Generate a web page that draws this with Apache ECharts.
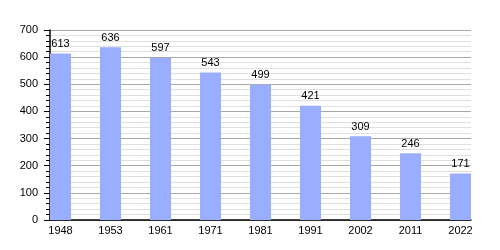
<!DOCTYPE html>
<html>
<head>
<meta charset="utf-8">
<script src="https://cdn.jsdelivr.net/npm/echarts@6/dist/echarts.min.js"></script>
<style>html,body{margin:0;padding:0;background:#fff;}#c{width:500px;height:250px;}</style>
</head>
<body>
<div id="c"></div>
<script>
const years = ['1948','1953','1961','1971','1981','1991','2002','2011','2022'];
const population = [613, 636, 597, 543, 499, 421, 309, 246, 171];
const yTicks = [0, 100, 200, 300, 400, 500, 600, 700];

const chart = echarts.init(document.getElementById('c'), null, {renderer: 'canvas'});
const idx = years.map((y, i) => i);
chart.setOption({
  animation: false,
  backgroundColor: '#ffffff',
  textStyle: {fontFamily: 'Liberation Sans, Arial, sans-serif'},
  grid: {left: 50, top: 30, width: 421, height: 190, containLabel: false},
  xAxis: {
    type: 'value',
    min: -0.21,
    max: 8.21,
    axisLine: {show: true, onZero: false, lineStyle: {color: '#000', width: 1.5}},
    axisTick: {show: false},
    splitLine: {show: false},
    axisLabel: {
      customValues: idx,
      formatter: v => years[Math.round(v)],
      color: '#000', fontSize: 11, margin: 5
    }
  },
  yAxis: {
    type: 'value',
    min: yTicks[0],
    max: yTicks[yTicks.length - 1],
    interval: 100,
    axisLine: {show: true, onZero: false, lineStyle: {color: '#000', width: 1.5}},
    axisTick: {show: true, length: 6, lineStyle: {color: '#000'}},
    minorTick: {show: true, splitNumber: 5, length: 4, lineStyle: {color: '#000'}},
    splitLine: {show: true, lineStyle: {color: '#a8a8a8', width: 1}},
    minorSplitLine: {show: true, lineStyle: {color: '#e0e0e0', width: 1}},
    axisLabel: {color: '#000', fontSize: 11, margin: 12}
  },
  series: [{
    type: 'bar',
    data: population.map((v, i) => [i, v]),
    barWidth: 21,
    itemStyle: {color: '#99aeff'},
    label: {show: true, position: 'top', distance: 4, color: '#000', fontSize: 11}
  }]
});
</script>
</body>
</html>
